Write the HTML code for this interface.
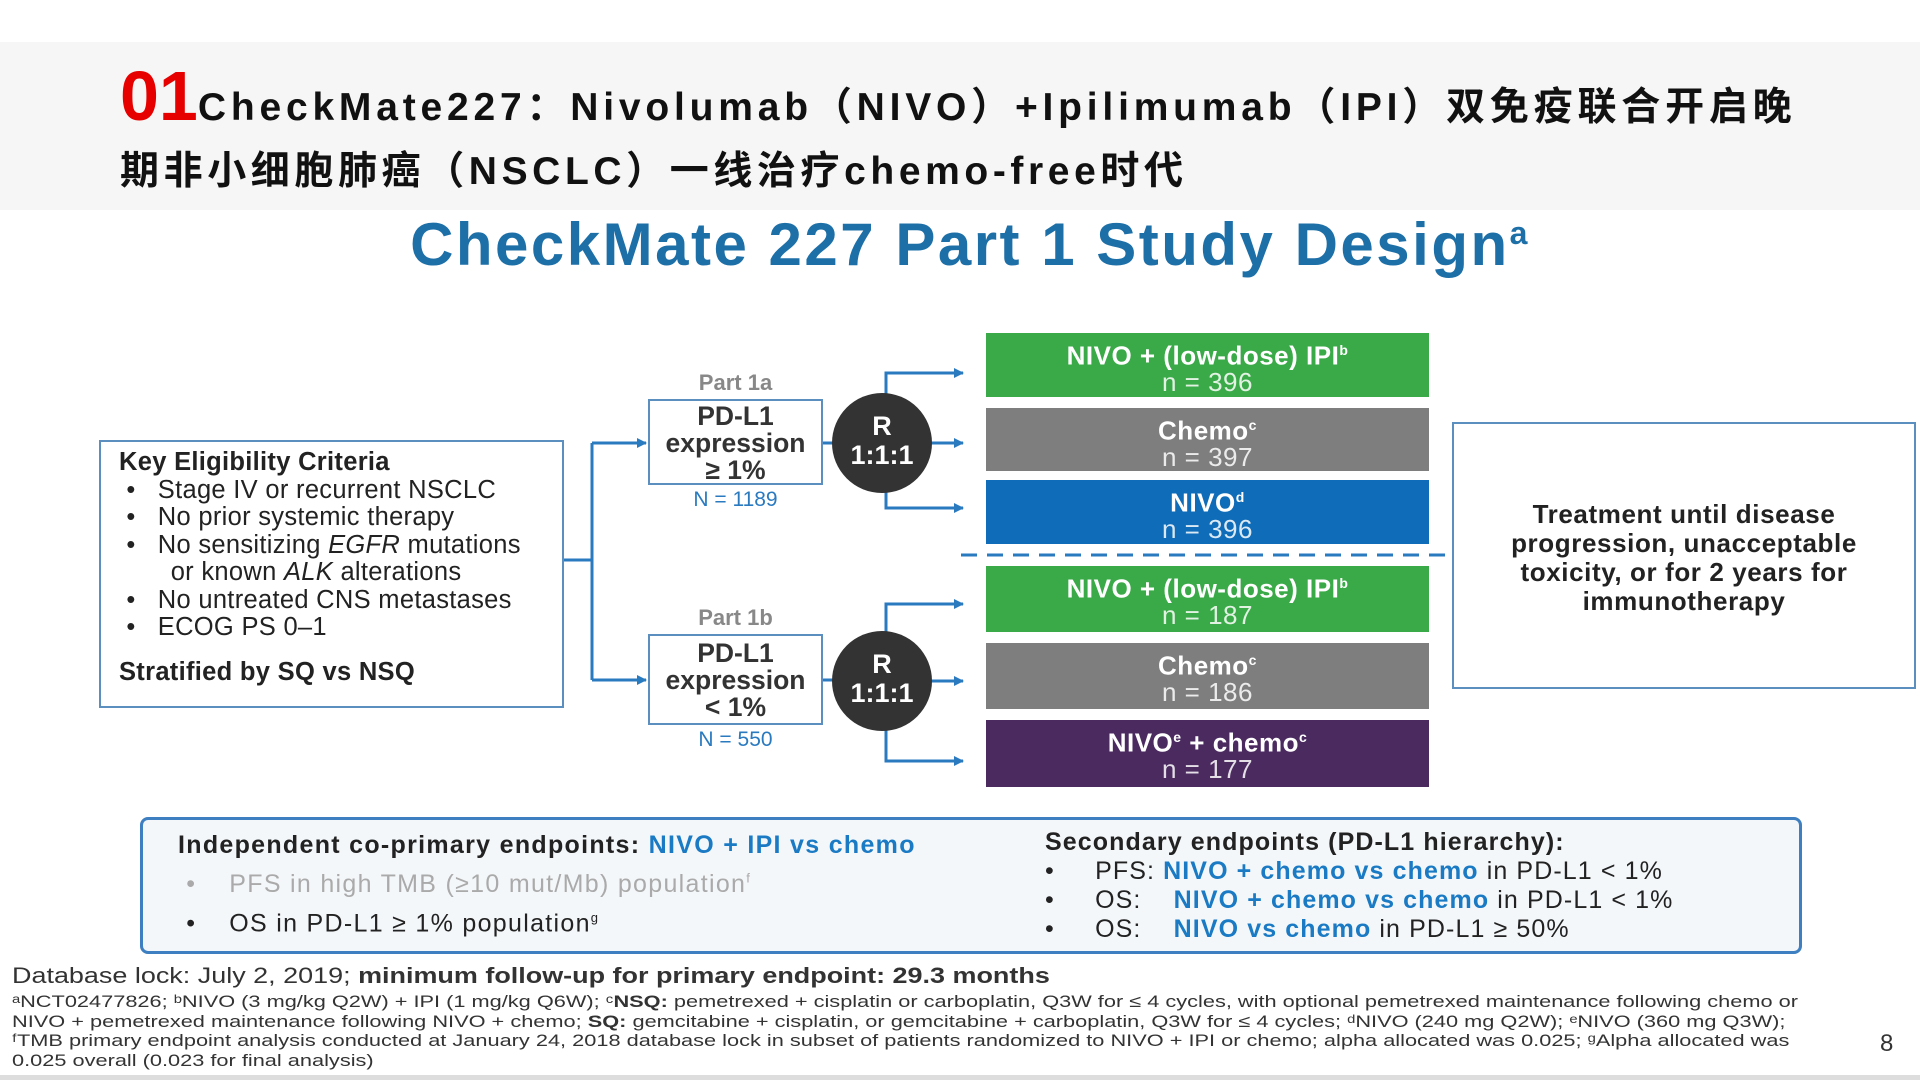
<!DOCTYPE html>
<html><head><meta charset="utf-8"><style>
*{margin:0;padding:0;box-sizing:border-box}
body{width:1920px;height:1080px;position:relative;background:#fff;font-family:"Liberation Sans","Noto Sans CJK SC",sans-serif;overflow:hidden}
.a{position:absolute}
.hdr{left:0;top:42px;width:1920px;height:168px;background:#f6f6f6}
.t1{left:120px;top:56px;font-weight:bold;font-size:39px;letter-spacing:4.8px;white-space:nowrap;color:#111}
.t1 .n{color:#e60000;font-size:70px;letter-spacing:0}
.t2{left:120px;top:140px;font-weight:bold;font-size:39px;letter-spacing:4.6px;white-space:nowrap;color:#111}
.st{left:0;width:1940px;top:210px;text-align:center;font-weight:bold;font-size:60px;letter-spacing:2.5px;color:#1d6fa8}
.box{border:2px solid #5a8fc0;background:#fff}
.arm{color:#fff;text-align:center;font-weight:bold;font-size:26px;letter-spacing:0.5px;line-height:26px;padding-top:4px}
.arm span{font-weight:normal;opacity:.85}
.c{text-align:center}
.circ{width:100px;height:100px;border-radius:50%;background:#333;color:#fff;font-weight:bold;font-size:27px;text-align:center;line-height:29px;padding-top:19px}
.ft{left:12px;font-size:17px;color:#333;white-space:nowrap;transform-origin:left top}
</style></head><body>
<div class="a hdr"></div>
<div class="a t1"><span class="n">01</span>CheckMate227：Nivolumab（NIVO）+Ipilimumab（IPI）双免疫联合开启晚</div>
<div class="a t2">期非小细胞肺癌（NSCLC）一线治疗chemo-free时代</div>
<div class="a st">CheckMate 227 Part 1 Study Design<sup style="font-size:32px">a</sup></div>

<div class="a box" style="left:99px;top:440px;width:465px;height:268px;padding:7px 18px;font-size:25.5px;letter-spacing:0.3px;line-height:27.5px;color:#222">
<b>Key Eligibility Criteria</b>
<div>&nbsp;•&nbsp;&nbsp; Stage IV or recurrent NSCLC</div>
<div>&nbsp;•&nbsp;&nbsp; No prior systemic therapy</div>
<div>&nbsp;•&nbsp;&nbsp; No sensitizing <i>EGFR</i> mutations</div>
<div>&nbsp;&nbsp;&nbsp;&nbsp;&nbsp;&nbsp; or known <i>ALK</i> alterations</div>
<div>&nbsp;•&nbsp;&nbsp; No untreated CNS metastases</div>
<div>&nbsp;•&nbsp;&nbsp; ECOG PS 0–1</div>
<div style="margin-top:17px"><b>Stratified by SQ vs NSQ</b></div>
</div>

<div class="a c" style="left:648px;top:370px;width:175px;font-size:22px;color:#888;font-weight:bold">Part 1a</div>
<div class="a box c" style="left:648px;top:399px;width:175px;height:86px;font-weight:bold;font-size:26.5px;line-height:27px;padding-top:2px;color:#333">PD-L1<br>expression<br>≥ 1%</div>
<div class="a c" style="left:648px;top:488px;width:175px;font-size:21px;color:#2a7ac0">N = 1189</div>
<div class="a c" style="left:648px;top:605px;width:175px;font-size:22px;color:#888;font-weight:bold">Part 1b</div>
<div class="a box c" style="left:648px;top:634px;width:175px;height:91px;font-weight:bold;font-size:26.5px;line-height:27px;padding-top:4px;color:#333">PD-L1<br>expression<br>&lt; 1%</div>
<div class="a c" style="left:648px;top:728px;width:175px;font-size:21px;color:#2a7ac0">N = 550</div>

<svg class="a" style="left:0;top:0" width="1920" height="1080">
<defs><marker id="ar" markerWidth="10" markerHeight="10" refX="9" refY="5" orient="auto" markerUnits="userSpaceOnUse"><path d="M0,0 L10,5 L0,10z" fill="#2a7ac0"/></marker></defs>
<g stroke="#2a7ac0" stroke-width="3" fill="none">
<path d="M564 560 H592 M592 443 V680"/>
<path d="M592 443 H646" marker-end="url(#ar)"/>
<path d="M592 680 H646" marker-end="url(#ar)"/>
<path d="M886 443 V373 H963" marker-end="url(#ar)"/>
<path d="M930 443 H963" marker-end="url(#ar)"/>
<path d="M886 443 V508 H963" marker-end="url(#ar)"/>
<path d="M886 681 V604 H963" marker-end="url(#ar)"/>
<path d="M930 681 H963" marker-end="url(#ar)"/>
<path d="M886 681 V761 H963" marker-end="url(#ar)"/>
<path d="M823 443 H840 M823 680 H840"/>
<path d="M961 555 H1445" stroke-dasharray="16 10"/>
</g>
</svg>
<div class="a circ" style="left:832px;top:393px">R<br>1:1:1</div>
<div class="a circ" style="left:832px;top:631px">R<br>1:1:1</div>

<div class="a arm" style="left:986px;top:333px;width:443px;height:64px;background:#3aaa48">NIVO + (low-dose) IPI<sup style="font-size:14px">b</sup><br><span>n = 396</span></div>
<div class="a arm" style="left:986px;top:408px;width:443px;height:63px;background:#7e7e7e">Chemo<sup style="font-size:14px">c</sup><br><span>n = 397</span></div>
<div class="a arm" style="left:986px;top:480px;width:443px;height:64px;background:#0e6cb8">NIVO<sup style="font-size:14px">d</sup><br><span>n = 396</span></div>
<div class="a arm" style="left:986px;top:566px;width:443px;height:66px;background:#3aaa48">NIVO + (low-dose) IPI<sup style="font-size:14px">b</sup><br><span>n = 187</span></div>
<div class="a arm" style="left:986px;top:643px;width:443px;height:66px;background:#7e7e7e">Chemo<sup style="font-size:14px">c</sup><br><span>n = 186</span></div>
<div class="a arm" style="left:986px;top:720px;width:443px;height:67px;background:#4b2a60">NIVO<sup style="font-size:14px">e</sup> + chemo<sup style="font-size:14px">c</sup><br><span>n = 177</span></div>

<div class="a box c" style="left:1452px;top:422px;width:464px;height:267px;padding-top:76px;font-weight:bold;font-size:26px;letter-spacing:0.6px;line-height:29px;color:#222">Treatment until disease<br>progression, unacceptable<br>toxicity, or for 2 years for<br>immunotherapy</div>

<div class="a" style="left:140px;top:817px;width:1662px;height:137px;border:3px solid #3d7fc0;border-radius:8px;background:#f4f7fa"></div>
<div class="a" style="left:178px;top:828px;font-size:25px;letter-spacing:1.3px;line-height:34px;color:#222;white-space:nowrap">
<b>Independent co-primary endpoints: <span style="color:#1a7ac4">NIVO + IPI vs chemo</span></b><br>
<span style="color:#aaa">&nbsp;•&nbsp;&nbsp;&nbsp; PFS in high TMB (≥10 mut/Mb) population<sup style="font-size:13px">f</sup></span><br>
&nbsp;•&nbsp;&nbsp;&nbsp; OS in PD-L1 ≥ 1% population<sup style="font-size:13px">g</sup></div>
<div class="a" style="left:1045px;top:828px;font-size:25px;letter-spacing:1.1px;line-height:29px;color:#222;white-space:nowrap">
<b>Secondary endpoints (PD-L1 hierarchy):</b><br>
•&nbsp;&nbsp;&nbsp;&nbsp; PFS: <b style="color:#1a7ac4">NIVO + chemo vs chemo</b> in PD-L1 &lt; 1%<br>
•&nbsp;&nbsp;&nbsp;&nbsp; OS:&nbsp;&nbsp;&nbsp; <b style="color:#1a7ac4">NIVO + chemo vs chemo</b> in PD-L1 &lt; 1%<br>
•&nbsp;&nbsp;&nbsp;&nbsp; OS:&nbsp;&nbsp;&nbsp; <b style="color:#1a7ac4">NIVO vs chemo</b> in PD-L1 ≥ 50%</div>

<div class="a ft" style="top:963px;font-size:22px;transform:scaleX(1.225)">Database lock: July 2, 2019; <b>minimum follow-up for primary endpoint: 29.3 months</b></div>
<div class="a ft" style="top:992px;line-height:19.5px;transform:scaleX(1.28)">ᵃNCT02477826; ᵇNIVO (3 mg/kg Q2W) + IPI (1 mg/kg Q6W); ᶜ<b>NSQ:</b> pemetrexed + cisplatin or carboplatin, Q3W for ≤ 4 cycles, with optional pemetrexed maintenance following chemo or<br>NIVO + pemetrexed maintenance following NIVO + chemo; <b>SQ:</b> gemcitabine + cisplatin, or gemcitabine + carboplatin, Q3W for ≤ 4 cycles; ᵈNIVO (240 mg Q2W); ᵉNIVO (360 mg Q3W);<br>ᶠTMB primary endpoint analysis conducted at January 24, 2018 database lock in subset of patients randomized to NIVO + IPI or chemo; alpha allocated was 0.025; ᵍAlpha allocated was<br>0.025 overall (0.023 for final analysis)</div>
<div class="a" style="left:1880px;top:1030px;font-size:24px;color:#333">8</div>
<div class="a" style="left:0;top:1075px;width:1920px;height:5px;background:#ddd"></div>
</body></html>
